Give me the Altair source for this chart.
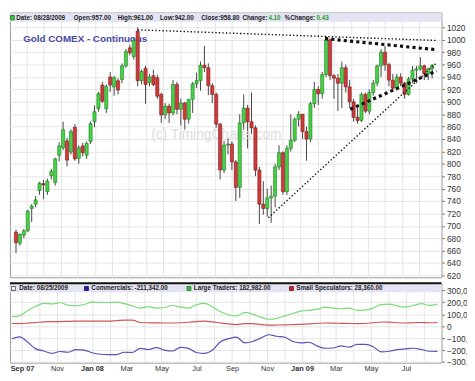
import altair as alt
import pandas as pd

# ---------------- weekly candles (Gold COMEX continuous) ----------------
opens = [690, 672, 685, 692, 728, 735, 757, 768, 755, 781, 770, 814, 826, 837, 819, 859, 809, 829, 814, 836,
         868, 889, 927, 889, 940, 924, 934, 936, 958, 987, 973, 1014, 934, 954, 931, 942, 939, 912, 879, 893,
         882, 928, 888, 898, 872, 904, 929, 934, 959, 955, 926, 912, 864, 790, 830, 832, 803, 762, 866, 890,
         868, 858, 790, 735, 728, 745, 748, 795, 818, 755, 825, 838, 872, 880, 852, 840, 897, 920, 913, 944,
         1000, 942, 938, 930, 955, 924, 900, 875, 870, 912, 885, 915, 930, 958, 980, 960, 935, 922, 940, 930,
         912, 937, 951, 953, 958, 945, 953]
highs = [694, 688, 695, 726, 735, 748, 771, 774, 776, 792, 810, 835, 868, 842, 856, 864, 830, 834, 836, 868,
         894, 916, 932, 928, 948, 942, 938, 962, 985, 992, 1003, 1020, 952, 958, 945, 952, 944, 915, 898, 897,
         935, 932, 905, 900, 905, 932, 947, 965, 990, 962, 930, 915, 866, 837, 842, 836, 806, 880, 912, 895,
         915, 862, 795, 772, 760, 765, 800, 830, 820, 830, 880, 875, 885, 880, 860, 900, 932, 925, 948, 1006,
         1002, 945, 945, 965, 960, 935, 905, 890, 915, 915, 920, 935, 960, 985, 990, 963, 945, 945, 946, 932,
         940, 958, 958, 972, 960, 955, 961]
lows = [656, 668, 680, 690, 706, 730, 750, 743, 750, 775, 765, 804, 822, 796, 815, 805, 800, 812, 808, 832,
        859, 884, 898, 882, 916, 910, 912, 930, 955, 975, 968, 925, 928, 897, 925, 925, 905, 866, 872, 866,
        878, 880, 862, 855, 865, 882, 922, 918, 948, 911, 898, 858, 775, 785, 815, 790, 740, 745, 855, 825,
        848, 780, 703, 718, 715, 705, 730, 790, 750, 750, 820, 835, 860, 840, 805, 835, 890, 895, 905, 940,
        935, 905, 885, 890, 915, 890, 868, 865, 867, 882, 880, 910, 925, 940, 950, 925, 920, 918, 925, 905,
        910, 930, 930, 950, 935, 935, 938]
closes = [673, 686, 692, 724, 732, 742, 769, 766, 772, 788, 808, 829, 855, 806, 852, 808, 826, 818, 833, 865,
          884, 913, 901, 925, 927, 939, 919, 958, 981, 979, 999, 934, 949, 928, 940, 928, 909, 879, 893, 882,
          928, 888, 898, 872, 904, 929, 934, 959, 955, 926, 912, 864, 790, 830, 832, 803, 762, 866, 890, 868,
          858, 790, 735, 728, 745, 748, 795, 818, 755, 825, 838, 872, 880, 852, 840, 897, 920, 913, 944, 1000,
          942, 938, 930, 955, 924, 900, 875, 870, 912, 885, 915, 930, 958, 980, 960, 935, 922, 940, 930, 912,
          937, 951, 953, 958, 945, 953, 958.8]
weeks = pd.date_range("2007-08-13", periods=len(opens), freq="7D")

# ---------------- COT positions (every second week) ----------------
cot_dates = pd.date_range("2007-08-14", periods=54, freq="14D")
commercials = [-105, -90, -135, -190, -208, -228, -212, -218, -196, -200, -222, -235, -238, -238, -218,
               -220, -186, -195, -180, -200, -208, -178, -186, -220, -228, -200, -130, -105, -92, -140,
               -128, -100, -72, -85, -93, -128, -140, -135, -165, -185, -183, -165, -176, -152, -152,
               -172, -215, -210, -196, -190, -185, -195, -210, -211.342]
large_traders = [78, 85, 130, 165, 190, 185, 195, 175, 170, 180, 200, 198, 197, 200, 188, 170, 150, 163,
                 150, 155, 172, 160, 150, 178, 190, 160, 120, 95, 85, 115, 100, 75, 57, 65, 85, 105, 125,
                 132, 140, 158, 150, 145, 150, 132, 133, 150, 180, 183, 168, 160, 172, 188, 173, 182.982]
small_specs = [22, 21, 25, 30, 36, 38, 38, 40, 41, 41, 42, 42, 41, 45, 50, 50, 30, 28, 27, 26, 26, 28, 32,
               38, 42, 35, 26, 18, 13, 20, 21, 12, 8, 9, 10, 13, 15, 18, 22, 26, 25, 23, 22, 21, 22, 28, 34,
               33, 28, 26, 28, 30, 28, 28.36]
series_names = ["Commercials", "Large Traders", "Small Speculators"]

# ---------------- trend lines ----------------
trend_id = ["a", "a", "b", "b"]
trend_dates = ["2008-03-17", "2009-09-01", "2008-11-05", "2009-09-01"]
trend_prices = [1016, 999, 713, 963]
band_id = ["c", "c", "d", "d"]
band_dates = ["2009-02-14", "2009-09-01", "2009-03-31", "2009-09-01"]
band_prices = [1002, 984, 888, 950]

price_ticks = list(range(620, 1021, 20))
cot_ticks = [-300000, -200000, -100000, 0, 100000, 200000, 300000]

# ---------------- frames ----------------
candles = pd.DataFrame({"date": weeks, "open": opens, "high": highs, "low": lows, "close": closes})
cot = pd.DataFrame({"date": list(cot_dates) * 3,
                    "series": sum([[n] * len(cot_dates) for n in series_names], []),
                    "value": [v * 1000 for v in commercials + large_traders + small_specs]})
trend = pd.DataFrame({"id": trend_id, "date": pd.to_datetime(trend_dates), "price": trend_prices})
band = pd.DataFrame({"id": band_id, "date": pd.to_datetime(band_dates), "price": band_prices})
one = pd.DataFrame({"k": [0]})

W, H1, H2 = 440, 270, 81
FONT = "Liberation Sans"

months = []
for y, m in [(2007, m) for m in range(9, 13)] + [(2008, m) for m in range(1, 13)] + [(2009, m) for m in range(1, 9)]:
    months.append(alt.DateTime(year=y, month=m, date=1))

xscale = alt.Scale(domain=[alt.DateTime(year=2007, month=8, date=11), alt.DateTime(year=2009, month=9, date=1)])
x_top_axis = alt.Axis(values=months, labels=False, ticks=False, domain=False, grid=True, title=None)
label_test = "month(datum.value) == 0 || (year(datum.value) == 2007 && month(datum.value) == 8)"
x_bot_axis = alt.Axis(values=months, ticks=False, domain=False, grid=True, title=None,
                      labelExpr="(month(datum.value) % 2 == 1) ? '' : ((" + label_test +
                                ") ? timeFormat(datum.value, '%b %y') : timeFormat(datum.value, '%b'))",
                      labelFontSize=7.5, labelPadding=2, labelOverlap=False,
                      labelFontWeight={"condition": {"test": label_test, "value": "bold"}, "value": "normal"})

pscale = alt.Scale(domain=[617, 1044], nice=False, zero=False)
paxis = alt.Axis(orient="right", values=price_ticks, format="d", grid=True, tickSize=3, domain=False,
                 title=None, labelFontSize=8.5, labelPadding=2, labelOverlap=False)
X = alt.X("date:T", scale=xscale, axis=x_top_axis)

up = "datum.close >= datum.open"
wicks = alt.Chart(candles).mark_rule(color="#444444", strokeWidth=1).encode(
    x=X, y=alt.Y("low:Q", scale=pscale, axis=paxis), y2="high:Q")
bodies = alt.Chart(candles).mark_bar(size=3.2, strokeWidth=0.6).encode(
    x=X, y=alt.Y("open:Q", scale=pscale, axis=paxis), y2="close:Q",
    fill=alt.condition(up, alt.value("#46D246"), alt.value("#D03A3A")),
    stroke=alt.condition(up, alt.value("#1E7A1E"), alt.value("#7A1616")))

dotted = alt.Chart(trend).mark_line(color="#111111", strokeWidth=1.4, strokeDash=[1.4, 2.2]).encode(
    x=X, y=alt.Y("price:Q", scale=pscale, axis=paxis), detail="id:N")
dashed = alt.Chart(band).mark_line(color="#111111", strokeWidth=3.2, strokeDash=[3.2, 3.2]).encode(
    x=X, y=alt.Y("price:Q", scale=pscale, axis=paxis), detail="id:N")

def rect(x1, x2, y1, y2, fill, stroke=None):
    kw = {"fill": fill}
    if stroke:
        kw.update(stroke=stroke, strokeWidth=0.8)
    return alt.Chart(one).mark_rect(**kw).encode(x=alt.value(x1), x2=alt.value(x2), y=alt.value(y1), y2=alt.value(y2))

def label(x, y, txt, color="#222222", size=6.4, weight="bold"):
    return alt.Chart(one).mark_text(align="left", baseline="middle", font=FONT, fontSize=size,
                                    fontWeight=weight, color=color).encode(
        x=alt.value(x), y=alt.value(y), text=alt.value(txt))

LAV = "#E3E3F4"
top_header = [rect(0, W, 0.8, 9.5, LAV), rect(0.5, 4.5, 3, 7.5, "#3CC83C", "#1E6E1E"),
              label(6.5, 5.3, "Date: 08/28/2009"), label(65, 5.3, "Open:957.00"),
              label(110, 5.3, "High:961.00"), label(153, 5.3, "Low:942.00"),
              label(195, 5.3, "Close:958.80"), label(237, 5.3, "Change:"),
              label(263.5, 5.3, "4.10", "#1FA01F"), label(280, 5.3, "%Change:"),
              label(312.5, 5.3, "0.43", "#1FA01F")]
title = label(13.5, 26.6, "Gold COMEX - Continuous", "#4A4AA8", 10)
watermark = label(144, 124.5, "(c) TimingCharts.com", "#DCDCDC", 14, "normal")

top = alt.layer(wicks, *top_header, title, watermark, bodies, dotted, dashed).properties(width=W, height=H1)

# ---------------- lower panel ----------------
Xb = alt.X("date:T", scale=xscale, axis=x_bot_axis)
Yc = alt.Y("value:Q", scale=alt.Scale(domain=[-305000, 358000], nice=False, zero=False),
           axis=alt.Axis(orient="right", values=cot_ticks, format=",d", grid=True, tickSize=3, domain=False,
                         title=None, labelFontSize=8.5, labelPadding=2, labelOverlap=False))
lines = alt.Chart(cot).mark_line(interpolate="monotone", strokeWidth=1.2).encode(
    x=Xb, y=Yc,
    color=alt.Color("series:N", legend=None,
                    scale=alt.Scale(domain=series_names, range=["#5555B5", "#78DC78", "#D25555"])))
bot_header = [rect(0, W, 1.6, 9.2, LAV), rect(1.5, 5.5, 3.4, 7.4, "white", "#333333"),
              label(9.5, 5.4, "Date: 08/25/2009"),
              rect(76, 80, 3.4, 7.4, "#2020A8", "#101060"), label(83, 5.4, "Commercials: -211,342.00"),
              rect(180.5, 184.5, 3.4, 7.4, "#30C830", "#1E6E1E"), label(187.5, 5.4, "Large Traders: 182,982.00"),
              rect(285, 289, 3.4, 7.4, "#C82828", "#701010"), label(292, 5.4, "Small Speculators: 28,360.00")]
sep = alt.Chart(one).mark_rule(color="#111111", strokeWidth=2).encode(
    x=alt.value(0), x2=alt.value(W), y=alt.value(0))
bottom = alt.layer(lines, *bot_header, sep).properties(width=W, height=H2)

chart = alt.vconcat(top, bottom, spacing=0).resolve_scale(
    x="independent", y="independent", color="independent"
).configure_view(stroke="#9A9A9A", strokeWidth=1).configure_axis(
    labelFont=FONT, labelColor="#333333", gridColor="#E4E4E4", tickColor="#777777"
).properties(padding={"left": 0, "top": 0, "right": -16, "bottom": 0}, background="white")

chart.save("out.html", embed_options={"renderer": "svg", "actions": False})
